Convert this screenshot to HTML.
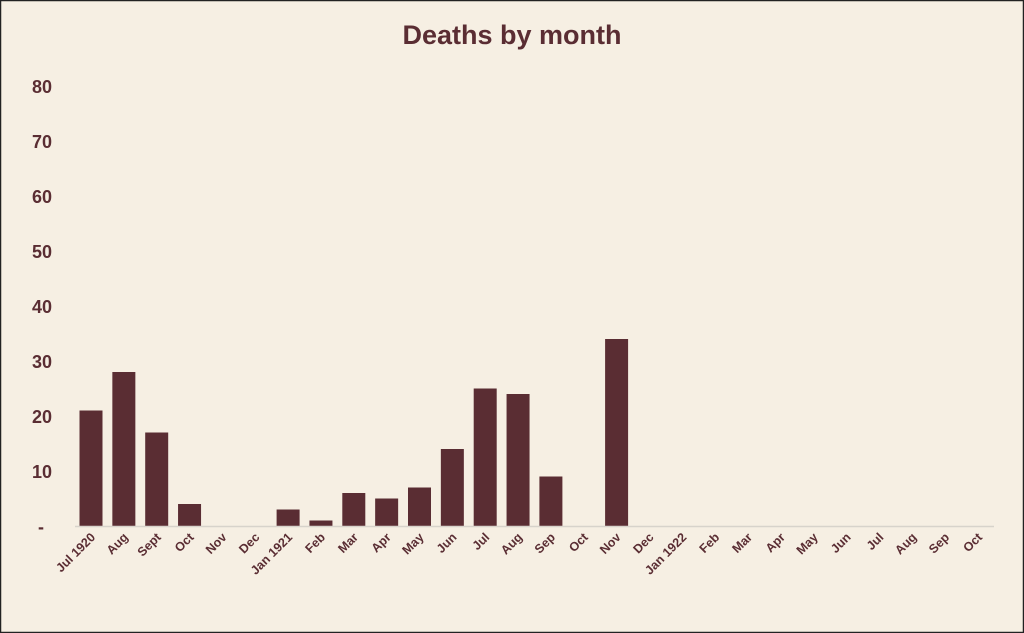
<!DOCTYPE html>
<html><head><meta charset="utf-8"><style>
html,body{margin:0;padding:0;background:#f6efe3;}
svg{display:block;font-family:"Liberation Sans",sans-serif;}
</style></head><body>
<svg id="chart" width="1024" height="633">
<rect x="0.5" y="0.5" width="1023" height="632" fill="#f6efe3" stroke="#222" stroke-width="1.5"/>
<text x="512" y="44" text-anchor="middle" font-size="27" font-weight="bold" fill="#5a2d33">Deaths by month</text>
<g id="yaxis"></g><g id="bars"></g><g id="xaxis"></g>
<line x1="75" y1="526.5" x2="994" y2="526.5" stroke="#d7d3cb" stroke-width="1.5"/>
</svg>
<script>
const categories=["Jul 1920","Aug","Sept","Oct","Nov","Dec","Jan 1921","Feb","Mar","Apr","May","Jun","Jul","Aug","Sep","Oct","Nov","Dec","Jan 1922","Feb","Mar","Apr","May","Jun","Jul","Aug","Sep","Oct"];
const deaths=[21,28,17,4,0,0,3,1,6,5,7,14,25,24,9,0,34,0,0,0,0,0,0,0,0,0,0,0];
const yTicks=[0,10,20,30,40,50,60,70,80];
const yTickLabels=["-","10","20","30","40","50","60","70","80"];
const NS="http://www.w3.org/2000/svg";
const y=v=>526-v*5.5;
const x=i=>91+i*32.85;
const bw=23;
function mk(t,a,p){const e=document.createElementNS(NS,t);for(const k in a)e.setAttribute(k,a[k]);p.appendChild(e);return e;}
const ya=document.getElementById('yaxis');
yTicks.forEach((v,i)=>{
 const t=mk('text',{x:i===0?41:52,y:y(v)+7,'text-anchor':i===0?'middle':'end','font-size':18,'font-weight':'bold',fill:'#5a2d33'},ya);
 
 
 t.textContent=yTickLabels[i];
});
const bg=document.getElementById('bars');
deaths.forEach((v,i)=>{
 if(v<=0)return;
 const r=mk('rect',{x:x(i)-bw/2,y:y(v),width:bw,height:526-y(v),fill:'#5a2d33'},bg);
 
 
});
const xa=document.getElementById('xaxis');
categories.forEach((c,i)=>{
 const px=x(i)+5,py=538;
 const t=mk('text',{x:px,y:py,'text-anchor':'end','font-size':12.5,'font-weight':'bold',fill:'#5a2d33',transform:`rotate(-45 ${px} ${py})`},xa);
 
 
 t.textContent=c;
});
</script>
</body></html>
